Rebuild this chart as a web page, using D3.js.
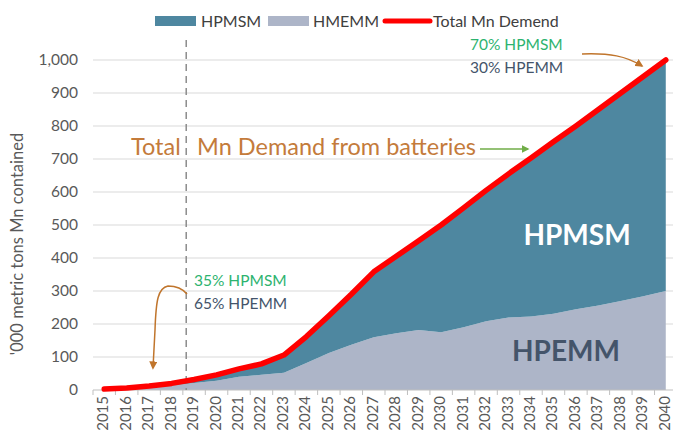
<!DOCTYPE html>
<html>
<head>
<meta charset="utf-8">
<script src="https://cdn.jsdelivr.net/npm/d3@7"></script>
<style>
  body { margin: 0; background: #fff; }
  svg text { font-family: Lato, "Open Sans", sans-serif; }
</style>
</head>
<body>
<div id="chart"></div>
<script>
// Data ('000 t Mn)
const years = ['2015','2016','2017','2018','2019','2020','2021','2022','2023','2024','2025','2026','2027',
               '2028','2029','2030','2031','2032','2033','2034','2035','2036','2037','2038','2039','2040'];
const hpemm = [2, 4, 8, 14, 21, 28, 40, 46, 52, 82, 112, 137, 160,
               172, 182, 175, 190, 208, 220, 223, 231, 245, 256, 270, 284, 300];
const hpmsm = [1, 2, 4, 6, 11, 18, 24, 33, 54, 80, 113, 153, 198,
               233, 270, 325, 362, 397, 435, 480, 521, 555, 594, 630, 666, 700];
const total = [3, 6, 12, 20, 32, 46, 64, 79, 106, 162, 225, 290, 358,
               405, 452, 500, 552, 605, 655, 703, 752, 800, 850, 900, 950, 1000];
const yTicks = [0, 100, 200, 300, 400, 500, 600, 700, 800, 900, 1000];
const legendItems = ['HPMSM', 'HMEMM', 'Total Mn Demend'];

const width = 673;
const height = 438;
const plotLeft = 93, plotRight = 677, plotTop = 60, plotBottom = 390;

const svg = d3.select('#chart').append('svg')
    .attr('width', width)
    .attr('height', height);

const x = d3.scalePoint().domain(years).range([plotLeft, plotRight]).padding(0.5);
const step = x.step();
const y = d3.scaleLinear().domain([0, 1000]).range([plotBottom, plotTop]);

// gridlines
svg.append('g')
    .selectAll('line')
    .data(yTicks.filter(d => d > 0))
    .join('line')
    .attr('x1', plotLeft).attr('x2', plotRight)
    .attr('y1', d => y(d)).attr('y2', d => y(d))
    .attr('stroke', '#d9d9d9').attr('stroke-width', 1);

// stacked areas
const rows = years.map((yr, i) => ({ year: yr, HPEMM: hpemm[i], HPMSM: hpmsm[i] }));
const stack = d3.stack().keys(['HPEMM', 'HPMSM'])(rows);
const colors = { HPEMM: '#adb5c8', HPMSM: '#4e87a0' };

const area = d3.area()
    .x(d => x(d.data.year))
    .y0(d => y(d[0]))
    .y1(d => y(d[1]));

svg.append('g')
    .selectAll('path')
    .data(stack)
    .join('path')
    .attr('d', area)
    .attr('fill', d => colors[d.key]);

// x axis
const xAxis = svg.append('g')
    .attr('transform', `translate(0,${plotBottom})`);
xAxis.append('line')
    .attr('x1', plotLeft).attr('x2', plotRight)
    .attr('stroke', '#bfbfbf');
xAxis.selectAll('line.tick')
    .data(years.concat(['end']))
    .join('line')
    .attr('class', 'tick')
    .attr('x1', (d, i) => plotLeft + i * step).attr('x2', (d, i) => plotLeft + i * step)
    .attr('y1', 0).attr('y2', 5)
    .attr('stroke', '#bfbfbf');
xAxis.selectAll('text')
    .data(years)
    .join('text')
    .attr('transform', d => `translate(${x(d) + 4},6) rotate(-90)`)
    .attr('text-anchor', 'end')
    .attr('font-size', 15)
    .attr('fill', '#595959')
    .text(d => d);

// y axis labels
svg.append('g')
    .selectAll('text')
    .data(yTicks)
    .join('text')
    .attr('x', 78)
    .attr('y', d => y(d) + 5)
    .attr('text-anchor', 'end')
    .attr('font-size', 15.5)
    .attr('fill', '#595959')
    .text(d => d3.format(',')(d));

svg.append('text')
    .attr('transform', 'translate(23,244) rotate(-90)')
    .attr('text-anchor', 'middle')
    .attr('font-size', 16.5)
    .attr('fill', '#595959')
    .text("'000 metric tons Mn contained");

// dashed line at 2019
const xDash = x('2018') + step * 0.65;
svg.append('line')
    .attr('x1', xDash).attr('x2', xDash)
    .attr('y1', 40).attr('y2', plotBottom)
    .attr('stroke', '#8c8c8c')
    .attr('stroke-width', 1.5)
    .attr('stroke-dasharray', '7,5');

// total line
const line = d3.line()
    .x((d, i) => x(years[i]))
    .y(d => y(d));
svg.append('path')
    .datum(total)
    .attr('d', line)
    .attr('fill', 'none')
    .attr('stroke', '#ff0000')
    .attr('stroke-width', 5.5)
    .attr('stroke-linejoin', 'round')
    .attr('stroke-linecap', 'round');

// area labels
svg.append('text')
    .attr('x', 577).attr('y', 245)
    .attr('text-anchor', 'middle')
    .attr('font-size', 28).attr('font-weight', 'bold')
    .attr('fill', '#ffffff')
    .text('HPMSM');
svg.append('text')
    .attr('x', 566).attr('y', 361)
    .attr('text-anchor', 'middle')
    .attr('font-size', 28).attr('font-weight', 'bold')
    .attr('fill', '#44546a')
    .text('HPEMM');

// annotation text
const orange = '#c47b3b';
svg.append('text')
    .attr('x', 131).attr('y', 155)
    .attr('font-size', 23.5)
    .attr('fill', orange)
    .text('Total');
svg.append('text')
    .attr('x', 197).attr('y', 155)
    .attr('font-size', 23.5)
    .attr('fill', orange)
    .text('Mn Demand from batteries');

// arrow heads
const defs = svg.append('defs');
defs.append('marker')
    .attr('id', 'greenHead')
    .attr('viewBox', '0 0 10 10')
    .attr('refX', 8).attr('refY', 5)
    .attr('markerWidth', 5).attr('markerHeight', 5)
    .attr('orient', 'auto')
    .append('path').attr('d', 'M0,0L10,5L0,10Z').attr('fill', '#70ad47');
defs.append('marker')
    .attr('id', 'orangeHead')
    .attr('viewBox', '0 0 10 10')
    .attr('refX', 8).attr('refY', 5)
    .attr('markerWidth', 5.5).attr('markerHeight', 5.5)
    .attr('orient', 'auto')
    .append('path').attr('d', 'M0,0L10,5L0,10Z').attr('fill', '#c0752c');

svg.append('line')
    .attr('x1', 480).attr('x2', 528)
    .attr('y1', 149).attr('y2', 149)
    .attr('stroke', '#70ad47').attr('stroke-width', 1.5)
    .attr('marker-end', 'url(#greenHead)');

// 2019 split note
svg.append('text').attr('x', 194).attr('y', 286)
    .attr('font-size', 15.5).attr('fill', '#2db36f').text('35% HPMSM');
svg.append('text').attr('x', 194).attr('y', 309)
    .attr('font-size', 15.5).attr('fill', '#44546a').text('65% HPEMM');

// 2040 split note
svg.append('text').attr('x', 470).attr('y', 50)
    .attr('font-size', 15.5).attr('fill', '#2db36f').text('70% HPMSM');
svg.append('text').attr('x', 470).attr('y', 73)
    .attr('font-size', 15.5).attr('fill', '#44546a').text('30% HPEMM');

// curved orange arrows
svg.append('path')
    .attr('d', 'M187,294 C182,288 176,286 168,286 C158,288 156,300 155,330 L153,368')
    .attr('fill', 'none')
    .attr('stroke', '#c0752c').attr('stroke-width', 1.5)
    .attr('marker-end', 'url(#orangeHead)');
svg.append('path')
    .attr('d', 'M582,54 C610,53 626,56 642,66')
    .attr('fill', 'none')
    .attr('stroke', '#c0752c').attr('stroke-width', 1.5)
    .attr('marker-end', 'url(#orangeHead)');

// legend
const legend = svg.append('g');
legend.append('rect').attr('x', 155).attr('y', 16).attr('width', 41).attr('height', 10).attr('fill', colors.HPMSM);
legend.append('text').attr('x', 201).attr('y', 27).attr('font-size', 16).attr('fill', '#404040').text(legendItems[0]);
legend.append('rect').attr('x', 268).attr('y', 16).attr('width', 41).attr('height', 10).attr('fill', colors.HPEMM);
legend.append('text').attr('x', 313).attr('y', 27).attr('font-size', 16).attr('fill', '#404040').text(legendItems[1]);
legend.append('line').attr('x1', 385).attr('x2', 430).attr('y1', 21).attr('y2', 21)
    .attr('stroke', '#ff0000').attr('stroke-width', 5).attr('stroke-linecap', 'round');
legend.append('text').attr('x', 433).attr('y', 27).attr('font-size', 16).attr('fill', '#404040').text(legendItems[2]);
</script>
</body>
</html>
